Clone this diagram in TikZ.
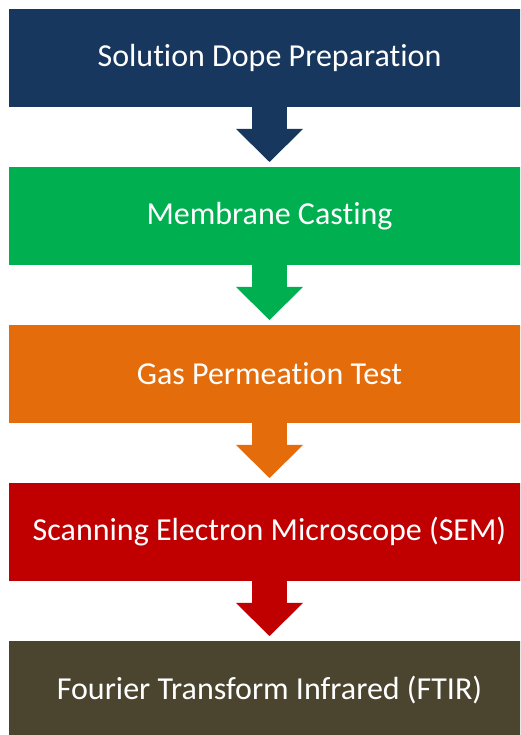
\documentclass[tikz,border=0pt]{standalone}
\usepackage{fontspec}
\setmainfont{Carlito}[Ligatures=NoCommon]
\usetikzlibrary{arrows.meta}
\definecolor{stepblue}{HTML}{17375E}
\definecolor{stepgreen}{HTML}{00B050}
\definecolor{steporange}{HTML}{E46C0A}
\definecolor{stepred}{HTML}{C00000}
\definecolor{stepolive}{HTML}{4B4530}

\begin{document}
\begin{tikzpicture}[x=1pt,y=1pt,
    stage/.style={fill=#1, text=white, minimum width=521pt, minimum height=98pt,
        inner sep=0pt, outer sep=0pt, font=\fontsize{32}{38}\selectfont},
    flow/.style={#1, line width=35pt, shorten >=5pt,
        -{Triangle[width=67pt,length=33pt,line width=0pt]}}]
        \useasboundingbox (0,0) rectangle (520,735);
        \clip (0,0) rectangle (520,735);
        \node[stage=stepblue] (dope) at (269.5,677) {Solution Dope Preparation};
        \node[stage=stepgreen] (casting) at (269.5,519) {Membrane Casting};
        \node[stage=steporange] (gas) at (269.5,361) {Gas Permeation Test};
        \node[stage=stepred] (sem) at (269.5,203) {Scanning Electron Microscope (SEM)};
        \node[stage=stepolive] (ftir) at (269.5,45) {Fourier Transform Infrared (FTIR)};

        \draw[flow=stepblue] (dope) -- (casting);
        \draw[flow=stepgreen] (casting) -- (gas);
        \draw[flow=steporange] (gas) -- (sem);
        \draw[flow=stepred] (sem) -- (ftir);
    \end{tikzpicture}
\end{document}
